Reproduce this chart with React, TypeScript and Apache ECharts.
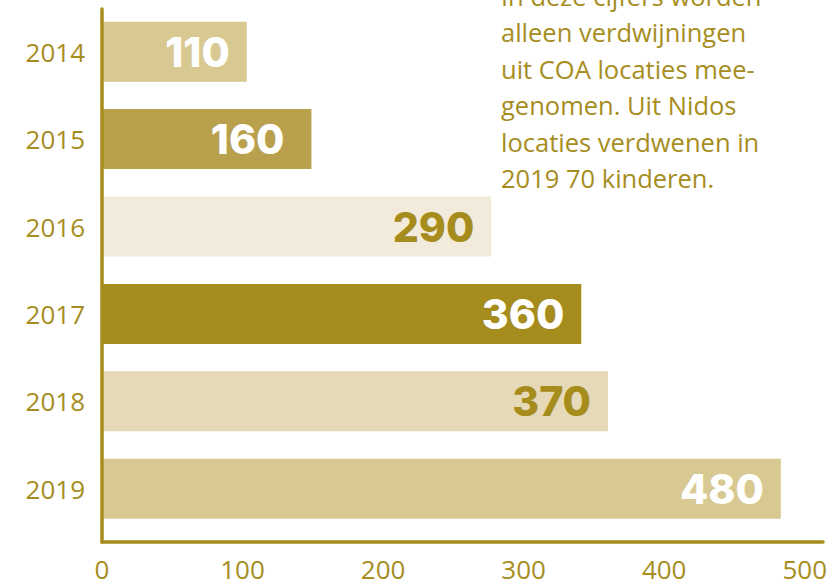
import React, { useEffect, useRef } from "react";
import * as echarts from "echarts";

const years = ["2014", "2015", "2016", "2017", "2018", "2019"];
// bar lengths as drawn in the picture
const barValues = [103, 149, 277, 341, 360, 483];
// printed labels on the bars
const barLabels = ["110", "160", "290", "360", "370", "480"];
const barColors = ["#d8c993", "#b9a04d", "#f2ebdb", "#a68c1c", "#e5d9b7", "#d8c993"];
const labelColors = ["#ffffff", "#ffffff", "#a68c1c", "#ffffff", "#a68c1c", "#ffffff"];
const noteLines = [
  "In deze cijfers worden",
  "alleen verdwijningen",
  "uit COA locaties mee-",
  "genomen. Uit Nidos",
  "locaties verdwenen in",
  "2019 70 kinderen.",
];

const GOLD = "#a68d1e";
const FONT = "'Open Sans', 'Noto Sans', sans-serif";
const BOLD_FONT = "Inter, 'Open Sans', sans-serif";

export default function App() {
  const ref = useRef<HTMLDivElement>(null);
  useEffect(() => {
    if (!ref.current) return;
    const chart = echarts.init(ref.current, undefined, { renderer: "svg" });
    const option: any = {
      animation: false,
      backgroundColor: "#ffffff",
      grid: [
        { left: 102, right: 10, top: 8, bottom: 54.6 },
        { left: 102, right: 10, top: 9, bottom: 45 },
      ],
      xAxis: [
        { type: "value", gridIndex: 0, min: 0, max: 513, show: false },
        {
          type: "value",
          gridIndex: 1,
          min: 0,
          max: 513,
          interval: 100,
          axisLine: { show: true, lineStyle: { color: GOLD, width: 3.5 } },
          axisTick: { show: false },
          splitLine: { show: false },
          axisLabel: {
            showMaxLabel: false,
            color: GOLD,
            fontSize: 26,
            fontFamily: FONT,
            margin: 14,
          },
        },
      ],
      yAxis: [
        {
          type: "category",
          gridIndex: 0,
          data: years,
          inverse: true,
          axisLine: { show: false },
          axisTick: { show: false },
          axisLabel: { color: GOLD, fontSize: 26, fontFamily: FONT, margin: 17 },
        },
        {
          type: "value",
          gridIndex: 1,
          z: 10,
          axisLine: { show: true, lineStyle: { color: GOLD, width: 3.5 } },
          axisTick: { show: false },
          axisLabel: { show: false },
          splitLine: { show: false },
        },
      ],
      series: [
        {
          type: "bar",
          xAxisIndex: 0,
          yAxisIndex: 0,
          barWidth: 60,
          data: barValues.map((v, i) => ({
            value: v,
            itemStyle: { color: barColors[i] },
            label: {
              show: true,
              position: "insideRight",
              distance: i === 1 ? 27 : 17,
              formatter: () => barLabels[i],
              color: labelColors[i],
              fontSize: 41,
              fontWeight: 800,
              fontFamily: BOLD_FONT,
            },
          })),
        },
      ],
      graphic: noteLines.map((t, i) => ({
        type: "text",
        left: 501,
        top: -17 + i * 36.4,
        style: {
          text: t,
          fill: GOLD,
          font: `25.5px ${FONT}`,
        },
      })),
    };
    chart.setOption(option);
    return () => chart.dispose();
  }, []);
  return <div ref={ref} style={{ width: 833, height: 587, position: "absolute", left: 0, top: 0 }} />;
}
